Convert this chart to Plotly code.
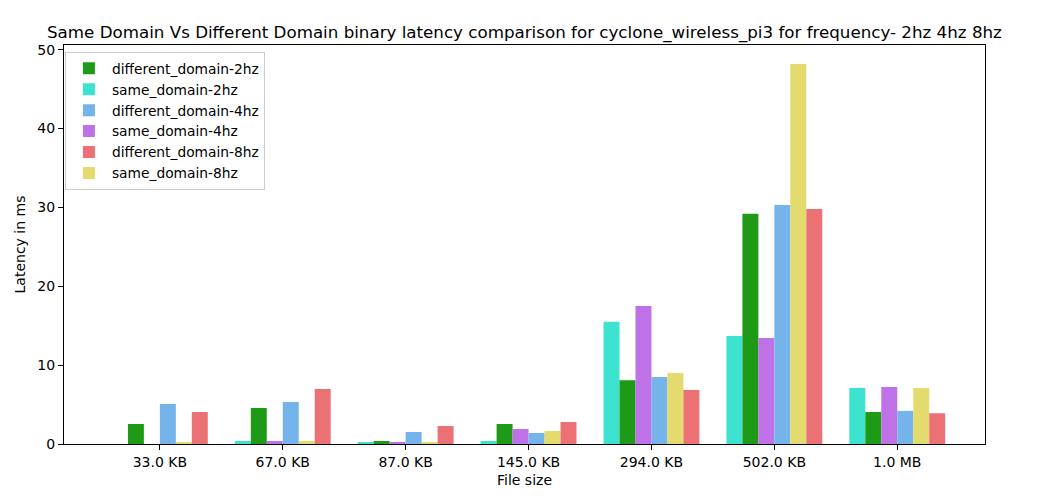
import plotly.graph_objects as go

categories = ["33.0 KB", "67.0 KB", "87.0 KB", "145.0 KB", "294.0 KB", "502.0 KB", "1.0 MB"]

same_domain_2hz = [0.0, 0.38, 0.25, 0.38, 15.5, 13.7, 7.1]
different_domain_2hz = [2.54, 4.57, 0.38, 2.54, 8.1, 29.2, 4.06]
same_domain_4hz = [0.0, 0.38, 0.25, 1.9, 17.5, 13.45, 7.23]
different_domain_4hz = [5.08, 5.33, 1.52, 1.4, 8.5, 30.3, 4.2]
same_domain_8hz = [0.17, 0.38, 0.13, 1.65, 9.0, 48.2, 7.1]
different_domain_8hz = [4.06, 6.98, 2.28, 2.79, 6.85, 29.8, 3.9]

series = [
    ("same_domain-2hz", same_domain_2hz, "#3de3d0", 2),
    ("different_domain-2hz", different_domain_2hz, "#1e9a17", 1),
    ("same_domain-4hz", same_domain_4hz, "#bf72e8", 4),
    ("different_domain-4hz", different_domain_4hz, "#74b4eb", 3),
    ("same_domain-8hz", same_domain_8hz, "#e4db6e", 6),
    ("different_domain-8hz", different_domain_8hz, "#ec7175", 5),
]

fig = go.Figure()
for name, vals, color, rank in series:
    fig.add_trace(go.Bar(
        x=list(range(len(categories))), y=vals, name=name,
        marker=dict(color=color, line=dict(width=0)),
        legendrank=rank,
    ))

font = "DejaVu Sans"
fig.update_layout(
    width=1037, height=499,
    margin=dict(l=54, r=60, t=37, b=63),
    paper_bgcolor="white", plot_bgcolor="white",
    barmode="group", bargap=0.22, bargroupgap=0,
    font=dict(family=font, size=14, color="black"),
    title=dict(
        text="Same Domain Vs Different Domain binary latency comparison for cyclone_wireless_pi3 for frequency- 2hz 4hz 8hz",
        x=0.498, xanchor="center", y=0.952, yanchor="middle",
        font=dict(family=font, size=16.7, color="black"),
    ),
    legend=dict(
        x=0.001, y=0.983, xanchor="left", yanchor="top",
        bgcolor="rgba(255,255,255,0.8)", bordercolor="#cccccc", borderwidth=1,
        font=dict(family=font, size=13.8), traceorder="normal",
        itemwidth=36, tracegroupgap=0,
    ),
    xaxis=dict(
        tickmode="array", tickvals=list(range(len(categories))), ticktext=categories,
        range=[-0.78, 6.714], showline=True, linecolor="black", linewidth=1, mirror=True,
        ticks="outside", ticklen=5, tickcolor="black", showgrid=False, zeroline=False,
        title=dict(text="File size", standoff=6, font=dict(family=font, size=14)),
        tickfont=dict(family=font, size=14),
    ),
    yaxis=dict(
        range=[0, 50.6], tickvals=[0, 10, 20, 30, 40, 50],
        showline=True, linecolor="black", linewidth=1, mirror=True,
        ticks="outside", ticklen=5, tickcolor="black", showgrid=False, zeroline=False,
        title=dict(text="Latency in ms", standoff=8, font=dict(family=font, size=14)),
        tickfont=dict(family=font, size=14),
    ),
    showlegend=True,
)

fig.write_html("out.html")
